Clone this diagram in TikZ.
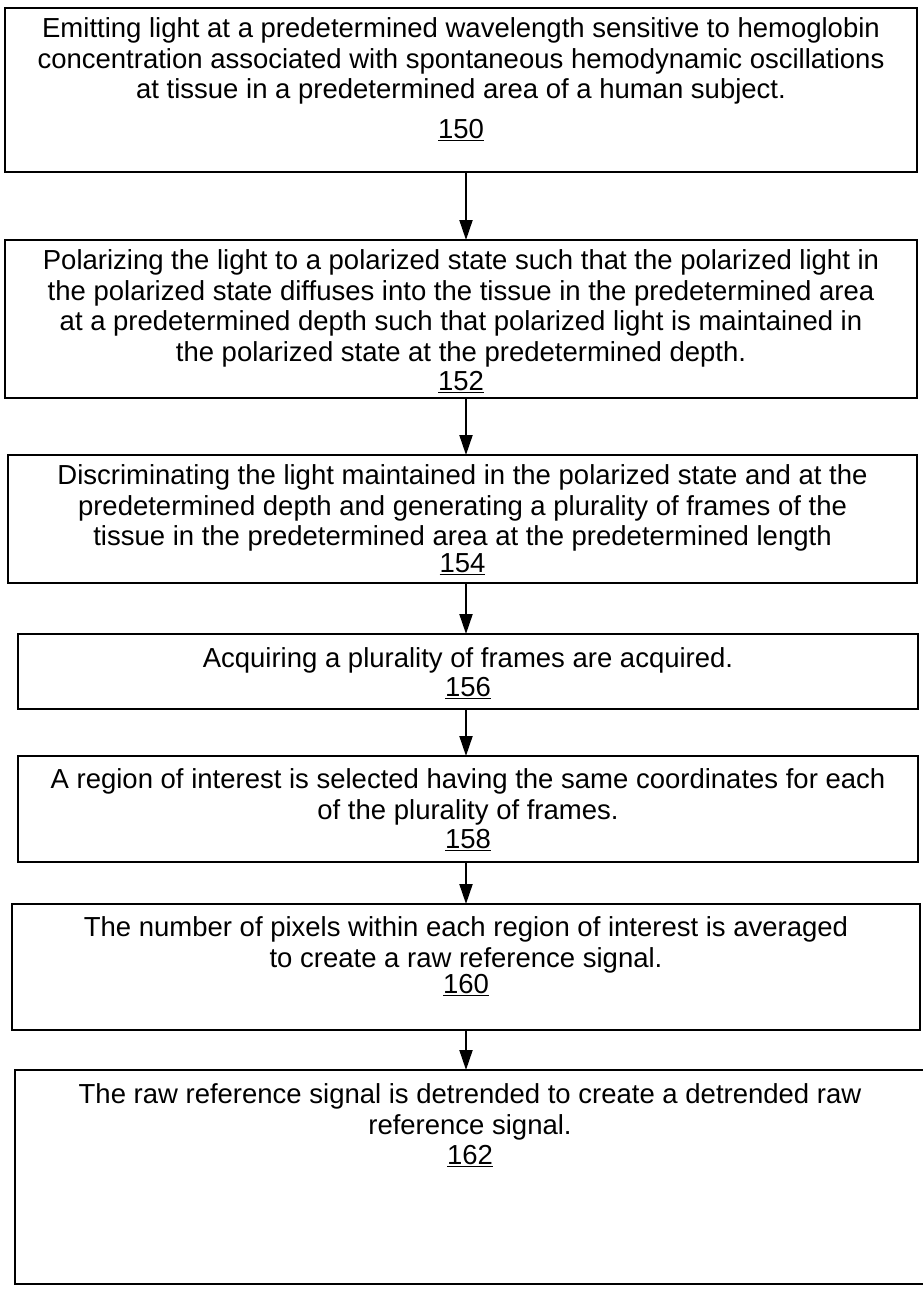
\documentclass[tikz,border=0pt]{standalone}
\usepackage{fontspec}
\setmainfont{Liberation Sans}
\usepackage{tikz}
\usetikzlibrary{arrows.meta, positioning}
\tikzstyle{block}=[draw,fill=white,rectangle,line width=2pt,inner xsep=0pt,inner ysep=10pt,outer sep=0pt,font=\fontsize{27.5}{30.5}\selectfont]
\newcommand{\steptext}[2]{\parbox[t][#1][t]{890pt}{\centering #2}}
\newcommand{\stepno}[2][0pt]{\\[#1]\underline{#2}}

\begin{document}
\begin{tikzpicture}[>={Triangle[width=13pt,length=20pt]}, line width=2pt]
  \useasboundingbox (0,0) rectangle (922pt,-1294pt);
  \coordinate (axis) at (466pt,0);
  \node[block, minimum width=912pt] (s150) at (461pt,-90pt)
    {\steptext{144pt}{Emitting light at a predetermined wavelength sensitive to hemoglobin\\
     concentration associated with spontaneous hemodynamic oscillations\\
     at tissue in a predetermined area of a human subject.\stepno[9pt]{150}}};
  \node[block, below=68pt of s150, minimum width=912pt] (s152)
    {\steptext{138pt}{Polarizing the light to a polarized state such that the polarized light in\\
     the polarized state diffuses into the tissue in the predetermined area\\
     at a predetermined depth such that polarized light is maintained in\\
     the polarized state at the predetermined depth.\stepno[-1pt]{152}}};
  \node[block, below=57pt of s152, xshift=1.5pt, minimum width=909pt] (s154)
    {\steptext{108pt}{Discriminating the light maintained in the polarized state and at the\\
     predetermined depth and generating a plurality of frames of the\\
     tissue in the predetermined area at the predetermined length\stepno[-4pt]{154}}};
  \node[block, below=51pt of s154, xshift=5.5pt, minimum width=900pt] (s156)
    {\steptext{55pt}{\vspace*{4pt}Acquiring a plurality of frames are acquired.\stepno[-2pt]{156}}};
  \node[block, below=47pt of s156, minimum width=900pt] (s158)
    {\steptext{86pt}{\vspace*{3pt}A region of interest is selected having the same coordinates for each\\
     of the plurality of frames.\stepno[-1pt]{158}}};
  \node[block, below=42pt of s158, xshift=-2pt, minimum width=908pt] (s160)
    {\steptext{106pt}{\vspace*{3pt}The number of pixels within each region of interest is averaged\\
     to create a raw reference signal.\stepno[-4pt]{160}}};
  \node[block, below=40pt of s160, xshift=4pt, minimum width=910pt] (s162)
    {\steptext{194pt}{\vspace*{4pt}The raw reference signal is detrended to create a detrended raw\\
     reference signal.\stepno{162}}};
  \draw[->] (s150.south -| axis) -- (s152.north -| axis);
  \draw[->] (s152.south -| axis) -- (s154.north -| axis);
  \draw[->] (s154.south -| axis) -- (s156.north -| axis);
  \draw[->] (s156.south -| axis) -- (s158.north -| axis);
  \draw[->] (s158.south -| axis) -- (s160.north -| axis);
  \draw[->] (s160.south -| axis) -- (s162.north -| axis);
\end{tikzpicture}
\end{document}
